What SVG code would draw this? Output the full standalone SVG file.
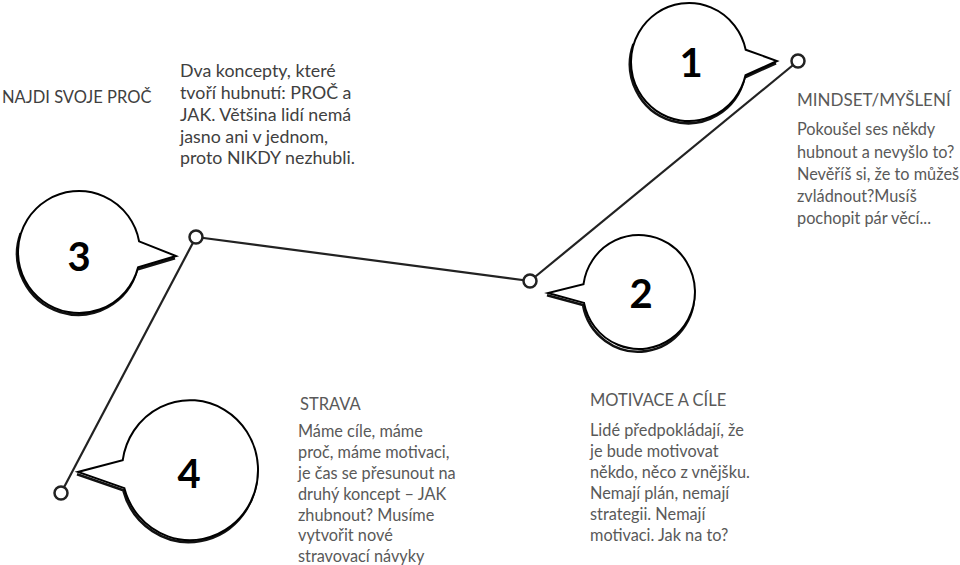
<svg xmlns="http://www.w3.org/2000/svg" width="960" height="565" viewBox="0 0 960 565">
<style>
.bub{fill:#fff;stroke:#000;stroke-width:2;stroke-linejoin:miter}
.sh{fill:none;stroke:#111;stroke-width:2.6;stroke-linejoin:round}
.num{font-family:Lato,"Liberation Sans",sans-serif;font-weight:bold;font-size:40px;fill:#000;text-anchor:middle}
.dot{fill:#fff;stroke:#222;stroke-width:2.5}
.con{stroke:#222;stroke-width:2.2;fill:none}
.h{font-family:Lato,"Liberation Sans",sans-serif;font-size:16.5px;fill:#595959}
.b{font-family:Lato,"Liberation Sans",sans-serif;font-size:16.3px;fill:#595959}
.dk{fill:#404040}
</style>
<rect width="960" height="565" fill="#fff"/>
<g id="connectors">
<line class="con" x1="798" y1="61" x2="530" y2="281"/>
<line class="con" x1="530" y1="281" x2="196" y2="237"/>
<line class="con" x1="196" y1="237" x2="61" y2="493"/>
</g>
<g id="node1">
<path class="sh" transform="translate(-1,2.2)" d="M777,61 L745.5,75.3 A58 59 0 1 1 634.5,41.8"/>
<path class="bub" d="M745.7,49.7 L777,61 L745.5,75.3 A58 59 0 1 1 745.7,49.7 Z"/>
<text class="num" x="691" y="77">1</text>
<circle class="dot" cx="798" cy="61" r="6.5"/>
</g>
<g id="node2">
<path class="sh" transform="translate(-1,2.2)" d="M548,293 L584,302.9 A56 57 0 0 0 694.8,287"/>
<path class="bub" d="M584,302.9 L548,293 L583.5,284.1 A56 57 0 1 1 584,302.9 Z"/>
<text class="num" x="641" y="308">2</text>
<circle class="dot" cx="530" cy="281" r="6.5"/>
</g>
<g id="node3">
<path class="sh" transform="translate(-1,2.2)" d="M176,256 L138.1,267.3 A61 61 0 1 1 21.7,231.1"/>
<path class="bub" d="M139.1,241.4 L176,256 L138.1,267.3 A61 61 0 1 1 139.1,241.4 Z"/>
<text class="num" x="79" y="271">3</text>
<circle class="dot" cx="196" cy="237" r="6.5"/>
</g>
<g id="node4">
<path class="sh" transform="translate(-1,2.2)" d="M78,472 L124.3,488.1 A68 70 0 0 0 257.7,463.9"/>
<path class="bub" d="M124.3,488.1 L78,472 L122.7,460.3 A68 70 0 1 1 124.3,488.1 Z"/>
<text class="num" x="189" y="488">4</text>
<circle class="dot" cx="61" cy="493" r="6.5"/>
</g>
<g id="text-proc">
<text class="h dk" x="2" y="103">NAJDI SVOJE PROČ</text>
<text class="b dk" x="180" y="77" style="font-size:17.8px">Dva koncepty, které</text>
<text class="b dk" x="180" y="99" style="font-size:17.8px">tvoří hubnutí: PROČ a</text>
<text class="b dk" x="180" y="121" style="font-size:17.8px">JAK. Většina lidí nemá</text>
<text class="b dk" x="180" y="143" style="font-size:17.8px">jasno ani v jednom,</text>
<text class="b dk" x="180" y="164" style="font-size:17.8px">proto NIKDY nezhubli.</text>
</g>
<g id="text-mindset">
<text class="h" x="797" y="106" style="font-size:17px">MINDSET/MYŠLENÍ</text>
<text class="b" x="797" y="135">Pokoušel ses někdy</text>
<text class="b" x="797" y="158">hubnout a nevyšlo to?</text>
<text class="b" x="797" y="180">Nevěříš si, že to můžeš</text>
<text class="b" x="797" y="202">zvládnout?Musíš</text>
<text class="b" x="797" y="224">pochopit pár věcí...</text>
</g>
<g id="text-strava">
<text class="h" x="300" y="410">STRAVA</text>
<text class="b" x="298" y="437">Máme cíle, máme</text>
<text class="b" x="298" y="458">proč, máme motivaci,</text>
<text class="b" x="298" y="479">je čas se přesunout na</text>
<text class="b" x="298" y="500">druhý koncept – JAK</text>
<text class="b" x="298" y="521">zhubnout? Musíme</text>
<text class="b" x="298" y="541">vytvořit nové</text>
<text class="b" x="298" y="562">stravovací návyky</text>
</g>
<g id="text-motivace">
<text class="h" x="590" y="406">MOTIVACE A CÍLE</text>
<text class="b" x="590" y="436">Lidé předpokládají, že</text>
<text class="b" x="590" y="457">je bude motivovat</text>
<text class="b" x="590" y="478">někdo, něco z vnějšku.</text>
<text class="b" x="590" y="499">Nemají plán, nemají</text>
<text class="b" x="590" y="520">strategii. Nemají</text>
<text class="b" x="590" y="541">motivaci. Jak na to?</text>
</g>
</svg>
